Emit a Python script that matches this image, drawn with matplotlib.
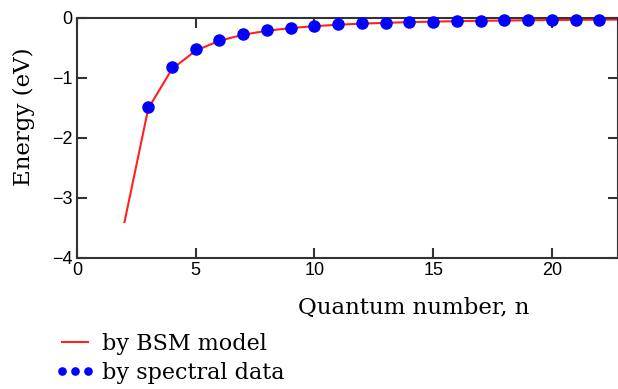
import matplotlib
matplotlib.use("Agg")
import matplotlib.pyplot as plt

# BSM model curve
n_model = [2, 3, 4, 5, 6, 7, 8, 9, 10, 11, 12, 13, 14, 15, 16, 17, 18, 19, 20, 21, 22, 23, 24, 25]
e_model = [-3.40, -1.51, -0.85, -0.544, -0.378, -0.278, -0.213, -0.168, -0.136, -0.112,
           -0.094, -0.080, -0.069, -0.060, -0.053, -0.047, -0.042, -0.038, -0.034, -0.031,
           -0.028, -0.026, -0.024, -0.022]

# spectral data points
n_data = [3, 4, 5, 6, 7, 8, 9, 10, 11, 12, 13, 14, 15, 16, 17, 18, 19, 20, 21, 22, 23, 24]
e_data = [-1.48, -0.82, -0.52, -0.36, -0.26, -0.20, -0.16, -0.13, -0.10, -0.09,
          -0.08, -0.07, -0.06, -0.05, -0.05, -0.04, -0.04, -0.03, -0.03, -0.03, -0.03, -0.02]

serif = "DejaVu Serif"
sans = "Liberation Sans"

fig = plt.figure(figsize=(6.18, 3.89), dpi=100)
ax = fig.add_axes([77 / 618, 1 - 258 / 389, 1 - 77 / 618, (258 - 18) / 389])

line, = ax.plot(n_model, e_model, color="#ff2020", lw=1.5, label="by BSM model", zorder=2)
dots, = ax.plot(n_data, e_data, "o", color="blue", ms=8, mec="blue", ls="none",
                label="by spectral data", zorder=3, clip_on=False)

ax.set_xlim(0, 22.78)
ax.set_ylim(-4, 0)
ax.set_xticks([0, 5, 10, 15, 20])
ax.set_yticks([-4, -3, -2, -1, 0])
ax.set_yticklabels(["\u22124", "\u22123", "\u22122", "\u22121", "0"])

for s in ax.spines.values():
    s.set_linewidth(1.5)
    s.set_color("#333333")
ax.tick_params(direction="in", length=7, width=1.5, color="#333333",
               top=True, right=True, labelsize=13, pad=3)
for lab in ax.get_xticklabels() + ax.get_yticklabels():
    lab.set_fontfamily(sans)

fig.text(24 / 618, 1 - 117 / 389, "Energy (eV)", rotation=90, ha="center", va="center",
         fontsize=16.5, family=serif)
fig.text(414 / 618, 1 - 308 / 389, "Quantum number, n", ha="center", va="center",
         fontsize=16.5, family=serif)

leg = ax.legend(handles=[line, dots], loc="upper left", bbox_to_anchor=(44 / 618, 1 - 322 / 389),
                bbox_transform=fig.transFigure, frameon=False, numpoints=3, markerscale=0.65,
                handlelength=1.8, handletextpad=0.3, labelspacing=0.3, borderpad=0,
                prop={"family": serif, "size": 16})

fig.savefig("out.png", dpi=100)
